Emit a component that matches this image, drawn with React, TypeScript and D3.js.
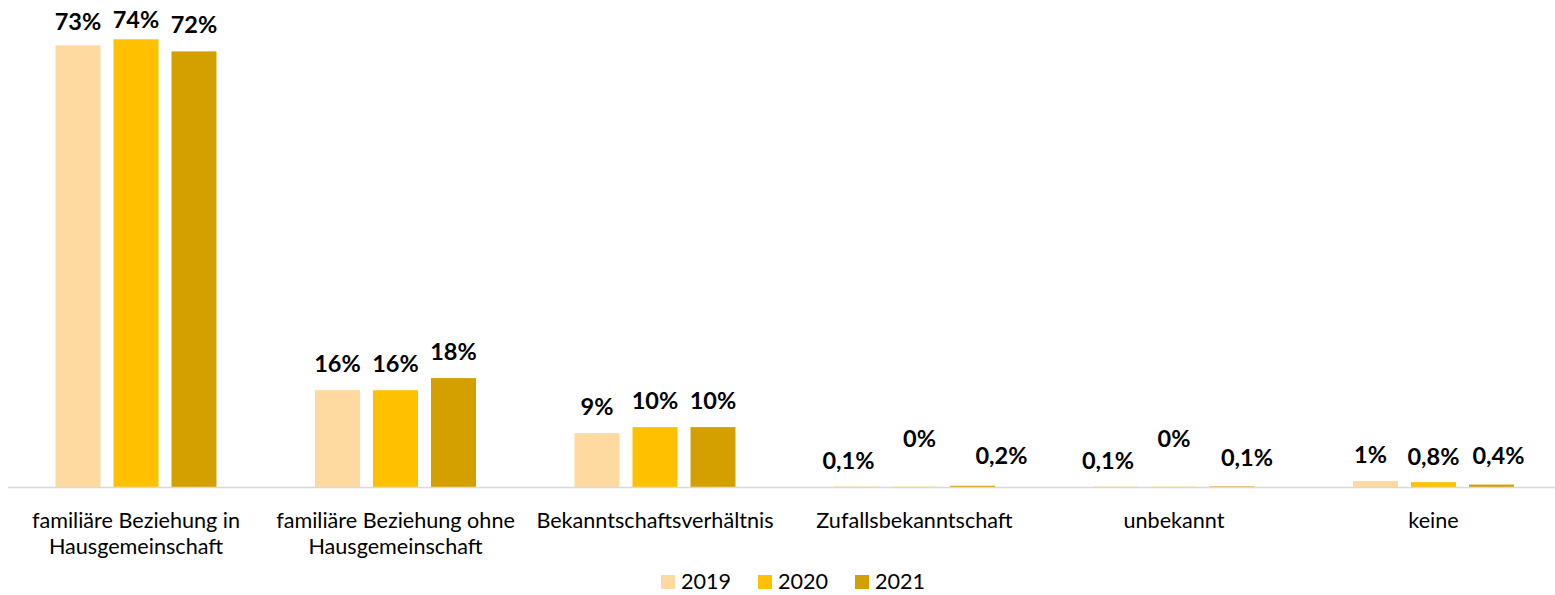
import * as d3 from "d3";

const categories = [
  ["familiäre Beziehung in", "Hausgemeinschaft"],
  ["familiäre Beziehung ohne", "Hausgemeinschaft"],
  ["Bekanntschaftsverhältnis"],
  ["Zufallsbekanntschaft"],
  ["unbekannt"],
  ["keine"],
];
const years = ["2019", "2020", "2021"];
const v2019 = [73, 16, 8.9, 0.1, 0.1, 1.0];
const v2020 = [74, 16, 9.9, 0.04, 0.04, 0.8];
const v2021 = [72, 18, 9.9, 0.2, 0.1, 0.4];
const l2019 = ["73%", "16%", "9%", "0,1%", "0,1%", "1%"];
const l2020 = ["74%", "16%", "10%", "0%", "0%", "0,8%"];
const l2021 = ["72%", "18%", "10%", "0,2%", "0,1%", "0,4%"];

const colors = ["#FED9A0", "#FFC000", "#D4A000"];
// manual label nudges (dx, dy) as in the original
const nudge = [
  [[0, 3], [0, 7], [0, 0]],
  [[0, 0], [0, 0], [0, 0]],
  [[0, 0], [0, 0], [0, 0]],
  [[-8, 1], [5, -21], [29, -3]],
  [[-8, 1], [0, -21], [15, -2]],
  [[-5, 1], [0, 1], [7, -2]],
];

const width = 1555;
const height = 595;
const font = "Lato, 'Open Sans', sans-serif";

export default function App() {
  const values = [v2019, v2020, v2021];
  const labels = [l2019, l2020, l2021];
  const x0 = d3
    .scaleBand<number>()
    .domain(d3.range(categories.length))
    .range([6.25, 6.25 + 259.5 * 6])
    .paddingInner(0)
    .paddingOuter(0);
  const groupW = 161;
  const x1 = d3
    .scaleBand<number>()
    .domain(d3.range(years.length))
    .range([(x0.bandwidth() - groupW) / 2, (x0.bandwidth() + groupW) / 2])
    .paddingInner(13 / 58);
  const y = d3.scaleLinear([0, 80], [487, 3]);

  return (
    <svg
      width={width}
      height={height}
      style={{ position: "absolute", left: 0, top: 0, display: "block" }}
    >
      <rect width={width} height={height} fill="white" />
      {categories.map((cat, i) => (
        <g key={i} transform={`translate(${x0(i)},0)`}>
          {values.map((vals, s) => (
            <rect
              key={s}
              x={x1(s)}
              y={y(vals[i])}
              width={x1.bandwidth()}
              height={y(0) - y(vals[i])}
              fill={colors[s]}
            />
          ))}
          {labels.map((labs, s) => (
            <text
              key={s}
              x={(x1(s) ?? 0) + x1.bandwidth() / 2 + nudge[i][s][0]}
              y={y(values[s][i]) - 18.5 + nudge[i][s][1]}
              textAnchor="middle"
              fontFamily={font}
              fontWeight="bold"
              fontSize={23.5}
              fill="#000"
            >
              {labs[i]}
            </text>
          ))}
          <text
            x={x0.bandwidth() / 2}
            y={528}
            textAnchor="middle"
            fontFamily={font}
            fontSize={21.6}
            fill="#000"
          >
            {cat.map((line, k) => (
              <tspan key={k} x={x0.bandwidth() / 2} dy={k === 0 ? 0 : 26}>
                {line}
              </tspan>
            ))}
          </text>
        </g>
      ))}
      <line x1={8} x2={width} y1={487.5} y2={487.5} stroke="#D9D9D9" strokeWidth={1.5} />
      {years.map((yr, s) => (
        <g key={yr} transform={`translate(${661 + s * 97},575)`}>
          <rect width={14} height={14} fill={colors[s]} />
          <text x={20} y={14} fontFamily={font} fontSize={21.6} fill="#000">
            {yr}
          </text>
        </g>
      ))}
    </svg>
  );
}
